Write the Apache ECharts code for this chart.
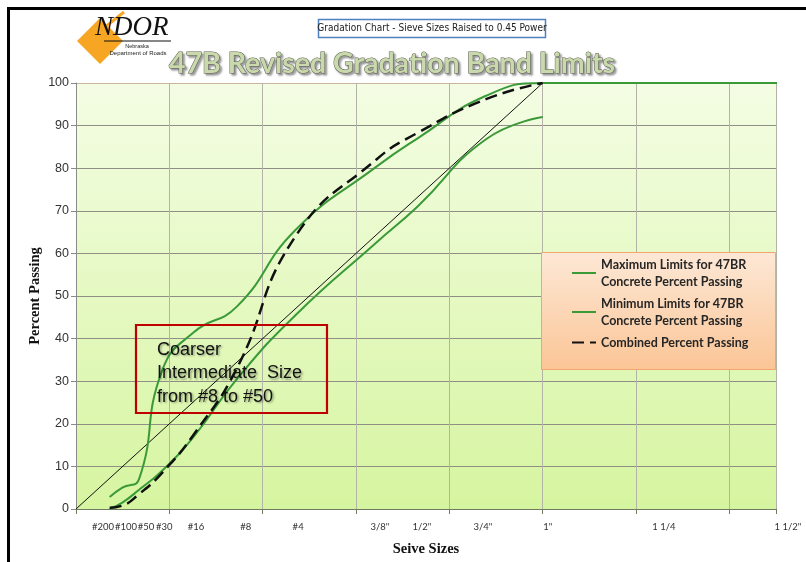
<!DOCTYPE html>
<html>
<head>
<meta charset="utf-8">
<title>47B Revised Gradation Band Limits</title>
<script src="https://cdn.jsdelivr.net/npm/echarts@6.0.0/dist/echarts.min.js"></script>
<style>
  html, body { margin: 0; padding: 0; background: #fff; }
  #chart { width: 806px; height: 562px; }
</style>
</head>
<body>
<div id="chart"></div>
<script>
// sieve openings in inches (x is plotted as size ^ 0.45)
const POWER = 0.45
const sieveInches = [0.0029, 0.0059, 0.0117, 0.0234, 0.0469, 0.0937, 0.187, 0.375, 0.5, 0.75, 1, 2.5]

// percent passing
const maxLimits = [2.8, 5, 7, 32.5, 41.5, 47.5, 65.5, 80.3, 87, 97, 100, 100]
const minLimits = [0, 1.5, 4.5, 9, 17, 30.5, 45.5, 62.5, 71, 86.8, 92, null]
const combined = [0.3, 0.8, 3.5, 8.5, 17.5, 33, 64, 82, 88.3, 96.2, 100, null]

// maximum density line: origin to 1" at 100 %
const densityInches = [0, 1]
const densityPct = [0, 100]

// sieve labels under the x axis and where they sit on the axis
const sieveLabels = ['#200', '#100', '#50', '#30', '#16', '#8', '#4', '3/8"', '1/2"', '3/4"', '1"', '1 1/4', '1 1/2"']
const sieveLabelAt = [0.058, 0.107, 0.150, 0.189, 0.257, 0.364, 0.476, 0.651, 0.741, 0.872, 1.011, 1.26, 1.5]

const yTicks = [0, 10, 20, 30, 40, 50, 60, 70, 80, 90, 100]

const names = [
  'Maximum Limits for 47BR\nConcrete Percent Passing',
  'Minimum Limits for 47BR\nConcrete Percent Passing',
  'Combined Percent Passing',
]

const toPoints = (sizes, values) =>
  sizes.map((s, i) => [Math.pow(s, POWER), values[i]]).filter((p) => p[1] != null)

const green = '#3a9a38'

const chart = echarts.init(document.getElementById('chart'), null, { renderer: 'canvas' })

// y split lines: grey, top one tan like the plot border
const yGridColors = yTicks.map((t) => (t === 100 ? '#c9b69c' : '#8f8f86'))

// an empty label at 0 keeps echarts' min-label overlap check away from #200/#100
const xLabelValues = [0].concat(sieveLabelAt)

const option = {
  animation: false,
  backgroundColor: '#fff',
  grid: {
    left: 76,
    right: 30,
    top: 83,
    bottom: 53,
    outerBoundsMode: 'none',
    show: true,
    borderWidth: 0,
    backgroundColor: new echarts.graphic.LinearGradient(0, 0, 0, 1, [
      { offset: 0, color: '#f4fde4' },
      { offset: 1, color: '#d6f5a0' },
    ]),
  },
  title: {
    text: '47B Revised Gradation Band Limits',
    left: 387,
    top: 44,
    textAlign: 'center',
    textStyle: {
      fontFamily: 'Lato',
      fontWeight: 'bold',
      fontSize: 28.5,
      color: '#c9d9ab',
      textBorderColor: '#5e6152',
      textBorderWidth: 1,
      textShadowColor: 'rgba(90,90,90,0.6)',
      textShadowBlur: 2,
      textShadowOffsetX: 2,
      textShadowOffsetY: 2,
    },
  },
  legend: {
    data: names,
    orient: 'vertical',
    left: 571,
    top: 256,
    itemWidth: 24,
    itemHeight: 10,
    itemGap: 5,
    padding: 0,
    itemStyle: { opacity: 0 },
    textStyle: {
      fontFamily: 'Lato',
      fontWeight: 'bold',
      fontSize: 12.5,
      lineHeight: 17,
      color: '#262626',
    },
  },
  xAxis: {
    type: 'value',
    min: 0,
    max: 1.5,
    interval: 0.2,
    name: 'Seive Sizes',
    nameLocation: 'middle',
    nameGap: 33,
    nameTextStyle: { fontFamily: 'Liberation Serif', fontWeight: 'bold', fontSize: 14.5, color: '#111' },
    axisLine: { show: true, lineStyle: { color: '#6f7a60', width: 1.2 } },
    axisTick: { show: true, length: 5, lineStyle: { color: '#6f7a60' } },
    axisLabel: {
      customValues: xLabelValues,
      showMinLabel: true,
      showMaxLabel: true,
      hideOverlap: false,
      margin: 13,
      fontFamily: 'Lato',
      fontSize: 9.5,
      color: '#333',
      formatter: (v) => {
        const i = sieveLabelAt.indexOf(v)
        const text = i >= 0 ? sieveLabels[i] : ''
        return i === sieveLabelAt.length - 1 ? '{last|' + text + '}' : text
      },
      rich: { last: { fontFamily: 'Lato', fontSize: 9.5, color: '#333', padding: [0, 0, 0, 24] } },
    },
    splitLine: { show: true, lineStyle: { color: '#b3b3a8', width: 1 } },
  },
  yAxis: {
    type: 'value',
    min: 0,
    max: 100,
    interval: 10,
    name: 'Percent Passing',
    nameLocation: 'middle',
    nameGap: 33,
    nameMoveOverlap: false,
    nameRotate: 90,
    nameTextStyle: { fontFamily: 'Liberation Serif', fontWeight: 'bold', fontSize: 14.5, color: '#111' },
    axisLine: { show: true, lineStyle: { color: '#8a8a8a' } },
    axisTick: { show: true, length: 5, lineStyle: { color: '#8a8a8a' } },
    axisLabel: { margin: 7, fontFamily: 'Liberation Sans', fontSize: 12.5, color: '#333' },
    splitLine: { show: true, lineStyle: { color: yGridColors, width: 1.2 } },
  },
  series: [
    {
      name: 'density',
      type: 'line',
      data: toPoints(densityInches, densityPct),
      symbol: 'none',
      lineStyle: { color: '#111', width: 1 },
      z: 3,
    },
    {
      name: names[0],
      type: 'line',
      data: toPoints(sieveInches, maxLimits),
      smooth: 0.5,
      symbol: 'none',
      clip: true,
      itemStyle: { color: green },
      lineStyle: { color: green, width: 2 },
      z: 4,
    },
    {
      name: names[1],
      type: 'line',
      data: toPoints(sieveInches, minLimits),
      smooth: 0.5,
      symbol: 'none',
      itemStyle: { color: green },
      lineStyle: { color: green, width: 2 },
      z: 4,
    },
    {
      name: names[2],
      type: 'line',
      data: toPoints(sieveInches, combined),
      smooth: 0.5,
      symbol: 'none',
      itemStyle: { color: '#111' },
      lineStyle: { color: '#111', width: 2.5, type: [12, 6] },
      z: 5,
    },
  ],
  graphic: [
    // outer frame
    { type: 'rect', shape: { x: 8.5, y: 8.5, width: 820, height: 580 }, style: { fill: 'none', stroke: '#000', lineWidth: 3 }, z: 10 },
    // NDOR logo
    { type: 'polygon', shape: { points: [[77, 41], [100, 18], [123, 41], [100, 64]] }, style: { fill: '#f6a623' }, z: 10 },
    { type: 'polyline', shape: { points: [[104, 28], [114, 20], [124, 12]], smooth: 0.4 }, style: { stroke: '#f6a623', lineWidth: 3, fill: 'none' }, z: 10 },
    { type: 'text', x: 95, y: 14, style: { text: 'NDOR', font: 'italic 27px "Liberation Serif"', fill: '#111' }, z: 11 },
    { type: 'line', shape: { x1: 104, y1: 41, x2: 171, y2: 41 }, style: { stroke: '#111', lineWidth: 1.2 }, z: 11 },
    { type: 'text', x: 137, y: 43, style: { text: 'Nebraska', font: '5.5px "Liberation Sans"', fill: '#222', align: 'center' }, z: 11 },
    { type: 'text', x: 138, y: 50, style: { text: 'Department of Roads', font: '6px "Liberation Sans"', fill: '#222', align: 'center' }, z: 11 },
    // subtitle box
    { type: 'rect', shape: { x: 318.5, y: 19.5, width: 227, height: 18 }, style: { fill: '#fff', stroke: '#4f81bd', lineWidth: 1.5 }, z: 10 },
    { type: 'text', x: 432, y: 28.5, style: { text: 'Gradation Chart - Sieve Sizes Raised to 0.45 Power', font: '10px "DejaVu Sans Condensed", "Liberation Sans"', fill: '#222', align: 'center', verticalAlign: 'middle' }, z: 11 },
    // legend panel
    {
      type: 'rect',
      shape: { x: 541.5, y: 252.5, width: 234, height: 117 },
      style: {
        fill: new echarts.graphic.LinearGradient(0, 0, 0, 1, [
          { offset: 0, color: '#fde8d6' },
          { offset: 1, color: '#fbc596' },
        ]),
        stroke: '#f2a66e',
        lineWidth: 1,
      },
      z: 3,
    },
    // annotation box
    { type: 'rect', shape: { x: 136, y: 325, width: 191, height: 88 }, style: { fill: 'none', stroke: '#c00000', lineWidth: 2.2 }, z: 10 },
    {
      type: 'text',
      x: 157,
      y: 338,
      style: {
        text: 'Coarser\nIntermediate  Size\nfrom #8 to #50',
        font: '18px "Liberation Sans"',
        lineHeight: 23.5,
        fill: '#111',
        textShadowColor: 'rgba(0,0,0,0.35)',
        textShadowBlur: 2,
        textShadowOffsetX: 1.5,
        textShadowOffsetY: 1.5,
      },
      z: 11,
    },
  ],
}

chart.setOption(option)
</script>
</body>
</html>
